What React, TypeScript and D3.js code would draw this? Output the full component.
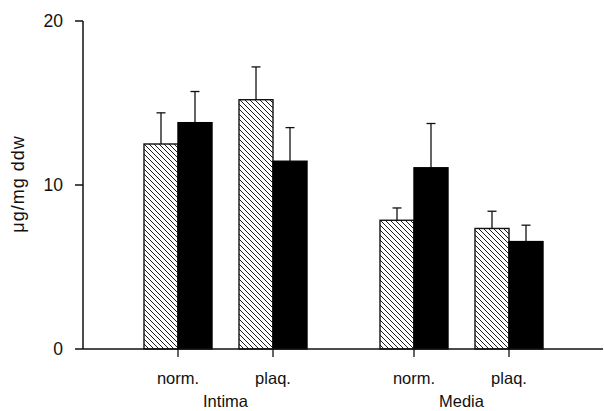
import React from "react"
import * as d3 from "d3"

// data
const regions = ["Intima", "Media"]
const conditions = ["norm.", "plaq."]
const hatchedValues = [12.5, 15.2, 7.85, 7.35]
const hatchedErrors = [1.9, 2.0, 0.75, 1.05]
const blackValues = [13.8, 11.45, 11.05, 6.55]
const blackErrors = [1.9, 2.05, 2.7, 1.0]
const yTicks = [0, 10, 20]

const width = 604
const height = 411
const barW = 34

export default function App() {
  const y = d3.scaleLinear().domain([0, 20]).range([349, 21])
  const outer = d3.scaleBand().domain(regions).range([107.5, 579.5])
  const inner = d3.scalePoint().domain(conditions).range([0, outer.bandwidth()]).padding(0.742)

  const cells = regions.flatMap((r, i) =>
    conditions.map((c, j) => {
      const k = i * conditions.length + j
      return {
        key: r + c,
        cx: (outer(r) as number) + (inner(c) as number),
        cond: c,
        hv: hatchedValues[k],
        he: hatchedErrors[k],
        bv: blackValues[k],
        be: blackErrors[k],
      }
    })
  )

  const font = "'Liberation Sans', Arial, sans-serif"
  const ink = "#111"

  return (
    <svg
      width={width}
      height={height}
      style={{ position: "absolute", left: 0, top: 0, background: "#fff" }}
    >
      <defs>
        <pattern id="hatch" patternUnits="userSpaceOnUse" width={5} height={5}>
          <rect width={5} height={5} fill="#fff" />
          <path d="M0,0 L5,5 M-1,4 L1,6 M4,-1 L6,1" stroke={ink} strokeWidth={0.95} />
        </pattern>
      </defs>

      {/* y axis */}
      <line x1={83} x2={83} y1={y(20)} y2={y(0)} stroke={ink} strokeWidth={1.5} />
      {yTicks.map((t) => (
        <g key={t}>
          <line x1={75} x2={83} y1={y(t)} y2={y(t)} stroke={ink} strokeWidth={1.5} />
          <text
            x={63}
            y={y(t)}
            dy="0.36em"
            textAnchor="end"
            fontFamily={font}
            fontSize={17.5}
            fill={ink}
          >
            {t}
          </text>
        </g>
      ))}
      <text
        transform={`translate(24,184) rotate(-90)`}
        textAnchor="middle"
        fontFamily={font}
        fontSize={18}
        letterSpacing={1}
        fill={ink}
      >
        μg/mg ddw
      </text>

      {/* bars */}
      {cells.map((d) => (
        <g key={d.key}>
          <line x1={d.cx - barW / 2} x2={d.cx - barW / 2} y1={y(d.hv)} y2={y(d.hv + d.he)} stroke={ink} strokeWidth={1.3} />
          <line x1={d.cx - barW / 2 - 4.5} x2={d.cx - barW / 2 + 4.5} y1={y(d.hv + d.he)} y2={y(d.hv + d.he)} stroke={ink} strokeWidth={1.3} />
          <line x1={d.cx + barW / 2} x2={d.cx + barW / 2} y1={y(d.bv)} y2={y(d.bv + d.be)} stroke={ink} strokeWidth={1.3} />
          <line x1={d.cx + barW / 2 - 4.5} x2={d.cx + barW / 2 + 4.5} y1={y(d.bv + d.be)} y2={y(d.bv + d.be)} stroke={ink} strokeWidth={1.3} />
          <rect
            x={d.cx - barW}
            y={y(d.hv)}
            width={barW}
            height={y(0) - y(d.hv)}
            fill="url(#hatch)"
            stroke={ink}
            strokeWidth={1.4}
          />
          <rect
            x={d.cx}
            y={y(d.bv)}
            width={barW}
            height={y(0) - y(d.bv)}
            fill="#000"
            stroke="#000"
            strokeWidth={1.4}
          />
          <line x1={d.cx} x2={d.cx} y1={y(0)} y2={y(0) + 8} stroke={ink} strokeWidth={1.3} />
          <text x={d.cx} y={384} textAnchor="middle" fontFamily={font} fontSize={16.5} fill={ink}>
            {d.cond}
          </text>
        </g>
      ))}

      {/* x axis */}
      <line x1={83} x2={603} y1={y(0)} y2={y(0)} stroke={ink} strokeWidth={1.5} />
      {regions.map((r) => (
        <text
          key={r}
          x={(outer(r) as number) + outer.bandwidth() / 2}
          y={407}
          textAnchor="middle"
          fontFamily={font}
          fontSize={16.5}
          fill={ink}
        >
          {r}
        </text>
      ))}
    </svg>
  )
}
